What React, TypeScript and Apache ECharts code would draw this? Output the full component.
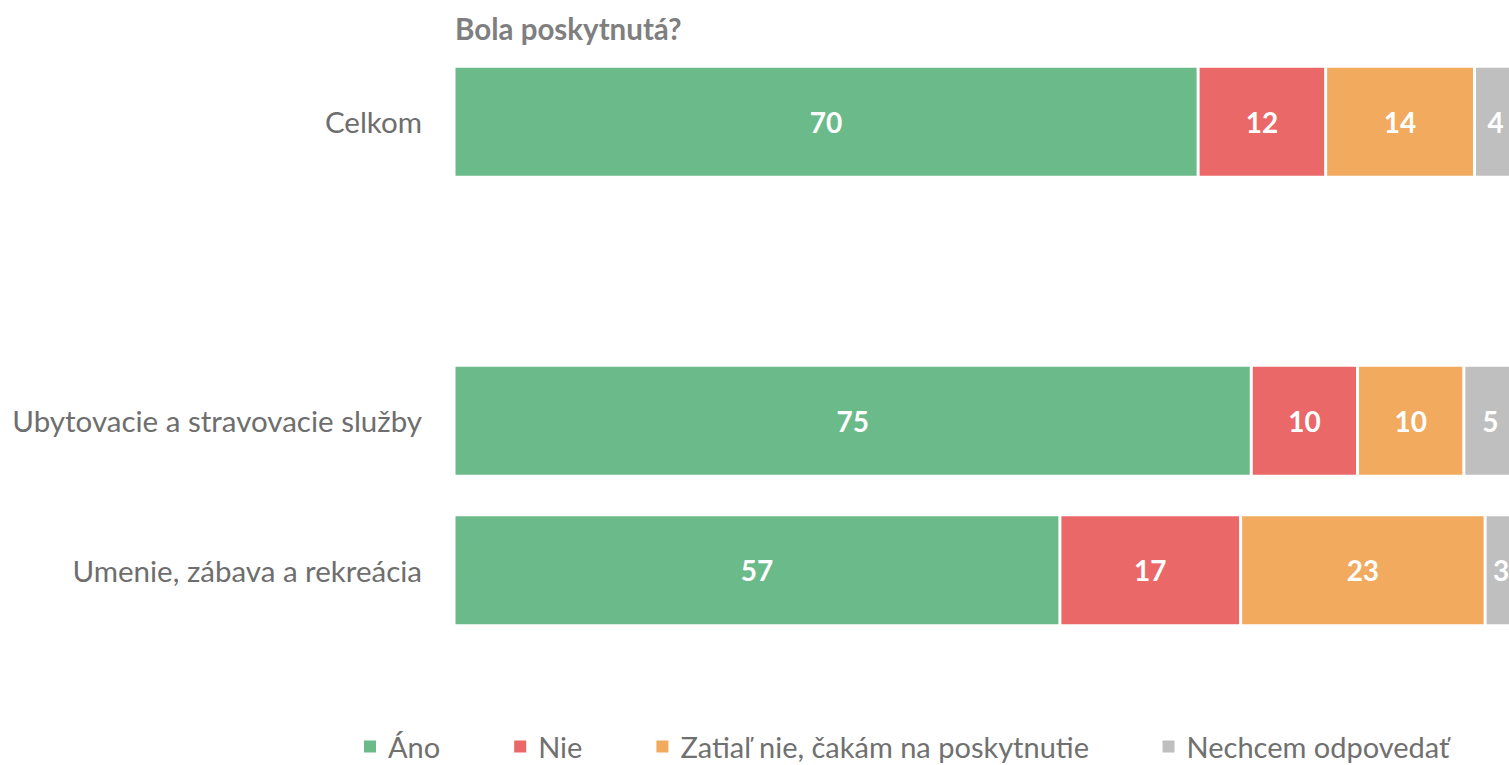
import React, { useEffect, useRef } from "react";
import * as echarts from "echarts";

const categories = ["Celkom", "", "Ubytovacie a stravovacie služby", "Umenie, zábava a rekreácia"];
const seriesNames = ["Áno", "Nie", "Zatiaľ nie, čakám na poskytnutie", "Nechcem odpovedať"];
const ano = [70, null, 75, 57];
const nie = [12, null, 10, 17];
const zatial = [14, null, 10, 23];
const nechcem = [4, null, 5, 3];
const colors = ["#6BBB8A", "#EA6868", "#F1AA5E", "#BFBFBF"];
const title = "Bola poskytnutá?";

export default function App() {
  const ref = useRef<HTMLDivElement>(null);
  useEffect(() => {
    if (!ref.current) return;
    const chart = echarts.init(ref.current, undefined, { renderer: "svg" });
    const values = [ano, nie, zatial, nechcem];
    const font = "Lato, 'Open Sans', sans-serif";
    chart.setOption({
      animation: false,
      textStyle: { fontFamily: font },
      title: {
        text: title,
        left: 450,
        top: 8,
        textStyle: { color: "#7f7f7f", fontSize: 29.5, fontWeight: "bold", fontFamily: font },
      },
      legend: {
        data: seriesNames,
        left: 362,
        top: 732,
        padding: 0,
        icon: "rect",
        itemWidth: 14,
        itemHeight: 14,
        itemGap: 72,
        textStyle: { color: "#707070", fontSize: 29, lineHeight: 29, fontFamily: font, padding: [0, 0, 0, 6] },
      },
      grid: { left: 454, right: 8, top: 47, bottom: 120, containLabel: false },
      xAxis: {
        type: "value",
        min: 0,
        max: 100,
        show: false,
      },
      yAxis: {
        type: "category",
        data: categories,
        inverse: true,
        axisLine: { show: false },
        axisTick: { show: false },
        splitLine: { show: false },
        axisLabel: { color: "#6e6e6e", fontSize: 29.5, margin: 32, fontFamily: font },
      },
      series: seriesNames.map((name, i) => ({
        name,
        type: "bar",
        stack: "total",
        barWidth: 111,
        data: values[i],
        itemStyle: { color: colors[i], borderColor: "#ffffff", borderWidth: 1.5 },
        label: {
          show: true,
          position: "inside",
          color: "#ffffff",
          fontSize: 28,
          fontWeight: "bold",
          fontFamily: font,
        },
      })),
    });
    return () => chart.dispose();
  }, []);
  return (
    <div style={{ position: "fixed", left: 0, top: 0, width: 1509, height: 765, overflow: "hidden", background: "#fff" }}>
      <div ref={ref} style={{ width: 1525, height: 765 }} />
    </div>
  );
}
